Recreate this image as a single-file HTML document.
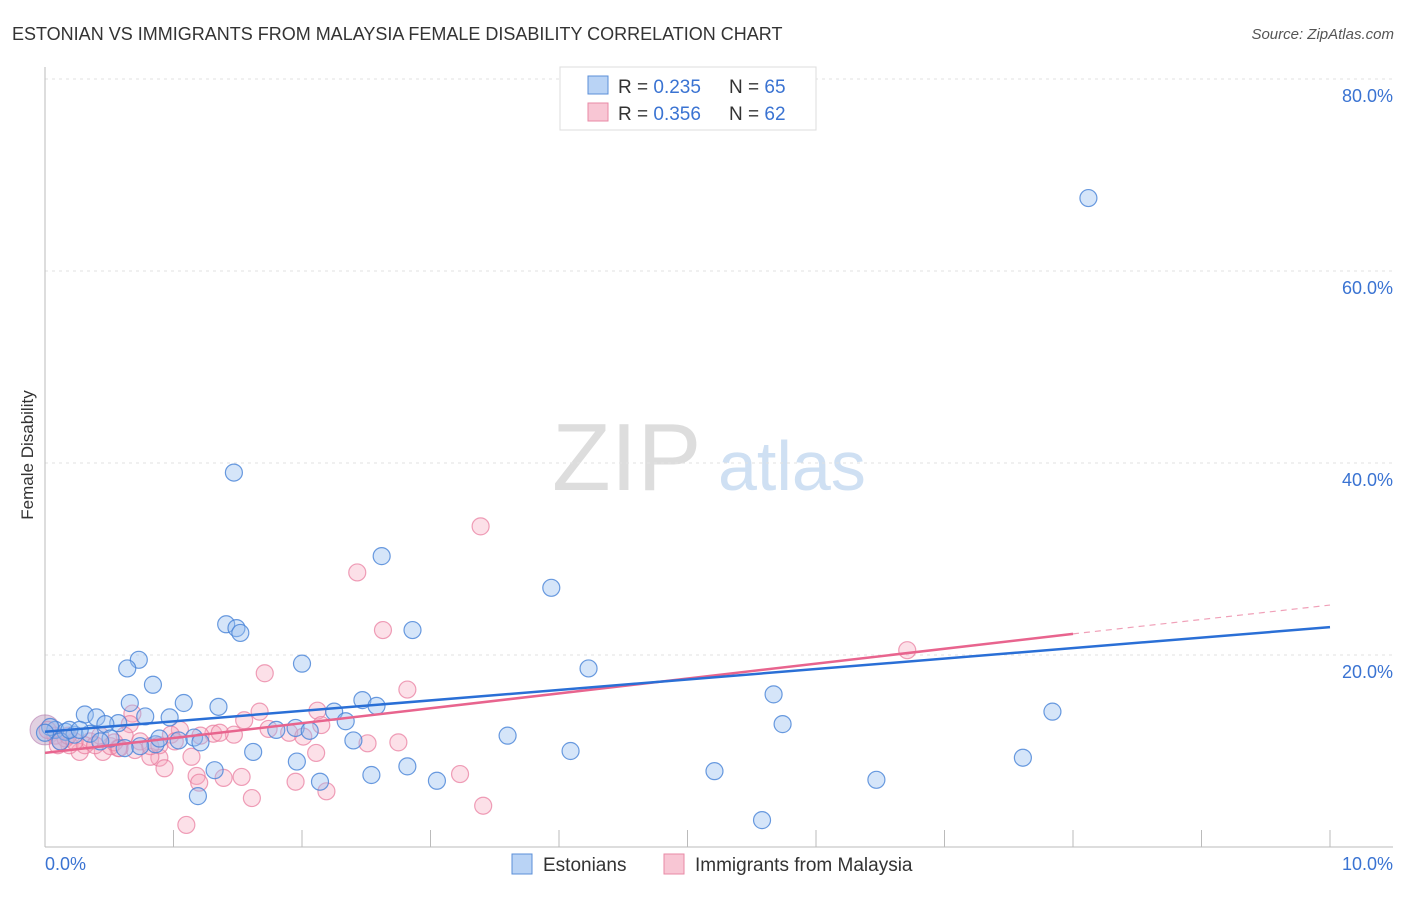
<!DOCTYPE html>
<html><head><meta charset="utf-8"><style>
body{margin:0;background:#fff;font-family:"Liberation Sans",sans-serif;}
svg text{font-family:"Liberation Sans",sans-serif;}
</style></head><body>
<svg id="c" width="1406" height="892">
<text x="12" y="40" font-size="18" fill="#333">ESTONIAN VS IMMIGRANTS FROM MALAYSIA FEMALE DISABILITY CORRELATION CHART</text>
<text x="1394" y="39" font-size="15" fill="#555" text-anchor="end" font-style="italic">Source: ZipAtlas.com</text>
<text x="33" y="455" font-size="17" fill="#333" text-anchor="middle" transform="rotate(-90 33 455)">Female Disability</text>
<text x="552" y="490" font-size="96" fill="#ddd" font-family="Liberation Serif">ZIP</text>
<text x="718" y="490" font-size="70" fill="#cfe0f3">atlas</text>
<g id="grid"></g><g id="pts"></g><g id="trend"></g>
<g>
<rect x="560" y="67" width="256" height="63" fill="#fff" stroke="#ddd"/>
<rect x="588" y="76" width="20" height="18" fill="#b9d3f5" stroke="#5b8fd8"/>
<text x="618" y="93" font-size="19" fill="#333">R = <tspan fill="#3a73d2">0.235</tspan></text>
<text x="729" y="93" font-size="19" fill="#333">N = <tspan fill="#3a73d2">65</tspan></text>
<rect x="588" y="103" width="20" height="18" fill="#f8c6d4" stroke="#e88aa6"/>
<text x="618" y="120" font-size="19" fill="#333">R = <tspan fill="#3a73d2">0.356</tspan></text>
<text x="729" y="120" font-size="19" fill="#333">N = <tspan fill="#3a73d2">62</tspan></text>
</g>
<g>
<rect x="512" y="854" width="20" height="20" fill="#b9d3f5" stroke="#5b8fd8"/>
<text x="543" y="871" font-size="19" fill="#333">Estonians</text>
<rect x="664" y="854" width="20" height="20" fill="#f8c6d4" stroke="#e88aa6"/>
<text x="695" y="871" font-size="19" fill="#333">Immigrants from Malaysia</text>
</g>
</svg>
<script>
const yTicks=[20,40,60,80];
const xTickLabels=["0.0%","10.0%"];
const blueX=[1.47,8.12,2.62,3.94,1.41,1.49,1.52,2.86,0.73,0.64,2.00,4.23,0.84,0.66,1.08,1.35,2.47,2.58,2.25,5.67,7.84,0.31,0.40,0.97,0.57,0.78,0.47,2.34,5.74,3.60,1.80,1.95,2.06,1.16,1.04,0.86,0.89,1.62,2.40,4.09,1.96,2.82,1.32,2.54,2.14,3.05,5.21,6.47,7.61,5.58,1.19,0.08,0.16,0.23,0.51,0.35,0.74,0.12,1.21,0.62,0.04,0.19,0.0,0.43,0.27];
const blueY=[39.0,67.6,30.3,27.0,23.2,22.8,22.3,22.6,19.5,18.6,19.1,18.6,16.9,15.0,15.0,14.6,15.3,14.7,14.1,15.9,14.1,13.8,13.5,13.5,12.9,13.6,12.8,13.1,12.8,11.6,12.2,12.4,12.1,11.4,11.1,10.7,11.3,9.9,11.1,10.0,8.9,8.4,8.0,7.5,6.8,6.9,7.9,7.0,9.3,2.8,5.3,12.2,12.0,11.7,11.3,11.8,10.5,11.0,10.9,10.3,12.5,12.2,11.9,11.0,12.2];
const pinkX=[3.39,2.43,2.63,1.71,2.82,6.71,2.12,1.67,2.15,1.55,0.68,0.66,1.05,1.31,0.98,1.74,1.90,2.01,1.47,2.51,2.75,2.11,1.95,1.53,1.39,1.18,1.14,0.89,0.93,0.82,3.23,1.61,3.41,2.19,1.10,1.20,0.57,0.45,0.27,0.12,0.08,0.19,0.35,0.51,0.74,0.02,0.16,0.43,0.62,0.31,0.23,0.39,0.70,0.54,0.82,0.10,0.18,0.58,0.89,1.01,1.21,1.36];
const pinkY=[33.4,28.6,22.6,18.1,16.4,20.5,14.2,14.1,12.7,13.2,13.9,12.8,12.2,11.8,11.7,12.3,11.9,11.5,11.7,10.8,10.9,9.8,6.8,7.3,7.2,7.4,9.4,9.3,8.2,9.4,7.6,5.1,4.3,5.8,2.3,6.7,10.3,9.9,9.9,11.0,11.6,10.6,11.0,10.5,11.0,12.2,11.3,11.6,11.6,10.6,11.0,10.6,10.1,10.9,10.5,10.6,11.6,10.3,10.6,11.0,11.6,11.9];
const blueTrend=[[0,12.0],[10,22.9]];
const pinkTrend=[[0,9.8],[8,22.2]];
const pinkDash=[[8,22.2],[10,25.2]];
const X=v=>45+v*128.5, Y=v=>847-v*9.6;
const NS="http://www.w3.org/2000/svg";
function mk(t,a,p){const e=document.createElementNS(NS,t);for(const k in a)e.setAttribute(k,a[k]);p.appendChild(e);return e;}
const g=document.getElementById('grid');
yTicks.forEach(t=>{
 const l=mk('line',{x1:45,x2:1393,y1:Y(t),y2:Y(t),stroke:'#e2e2e2','stroke-dasharray':'3,4'},g);
 
 
 const tx=mk('text',{x:1393,y:Y(t)+23,'font-size':18,fill:'#3a73d2','text-anchor':'end'},g);
 tx.textContent=t.toFixed(1)+'%';
 
 
});
const ax=mk('line',{x1:45,x2:45,y1:67,y2:847,stroke:'#bbb'},g);


const bx=mk('line',{x1:45,x2:1393,y1:847,y2:847,stroke:'#bbb'},g);


for(let i=1;i<=10;i++){const t=mk('line',{x1:X(i),x2:X(i),y1:830,y2:847,stroke:'#bbb'},g);
 
 }
[[0,'start',45],[10,'end',1393]].forEach((d,i)=>{const t=mk('text',{x:d[2],y:870,'font-size':18,fill:'#3a73d2','text-anchor':d[1]},g);t.textContent=xTickLabels[i];
 
 });
const p=document.getElementById('pts');
const big=mk('circle',{cx:X(0),cy:Y(12.2),r:15,fill:'rgba(170,120,170,0.35)',stroke:'rgba(170,100,160,0.5)'},p);


pinkX.forEach((v,i)=>{const c=mk('circle',{cx:X(v),cy:Y(pinkY[i]),r:8.5,fill:'rgba(245,165,190,0.35)',stroke:'rgba(232,120,155,0.7)','stroke-width':1.2},p);
 
 });
blueX.forEach((v,i)=>{const c=mk('circle',{cx:X(v),cy:Y(blueY[i]),r:8.5,fill:'rgba(150,190,240,0.4)',stroke:'rgba(70,130,215,0.8)','stroke-width':1.2},p);
 
 });
const tr=document.getElementById('trend');
const pl=mk('line',{x1:X(pinkTrend[0][0]),y1:Y(pinkTrend[0][1]),x2:X(pinkTrend[1][0]),y2:Y(pinkTrend[1][1]),stroke:'#e8648e','stroke-width':2.5},tr);


const pd=mk('line',{x1:X(pinkDash[0][0]),y1:Y(pinkDash[0][1]),x2:X(pinkDash[1][0]),y2:Y(pinkDash[1][1]),stroke:'#f0a0b8','stroke-width':1.2,'stroke-dasharray':'6,5'},tr);


const bl=mk('line',{x1:X(blueTrend[0][0]),y1:Y(blueTrend[0][1]),x2:X(blueTrend[1][0]),y2:Y(blueTrend[1][1]),stroke:'#2a6fd6','stroke-width':2.5},tr);


</script>
</body></html>
